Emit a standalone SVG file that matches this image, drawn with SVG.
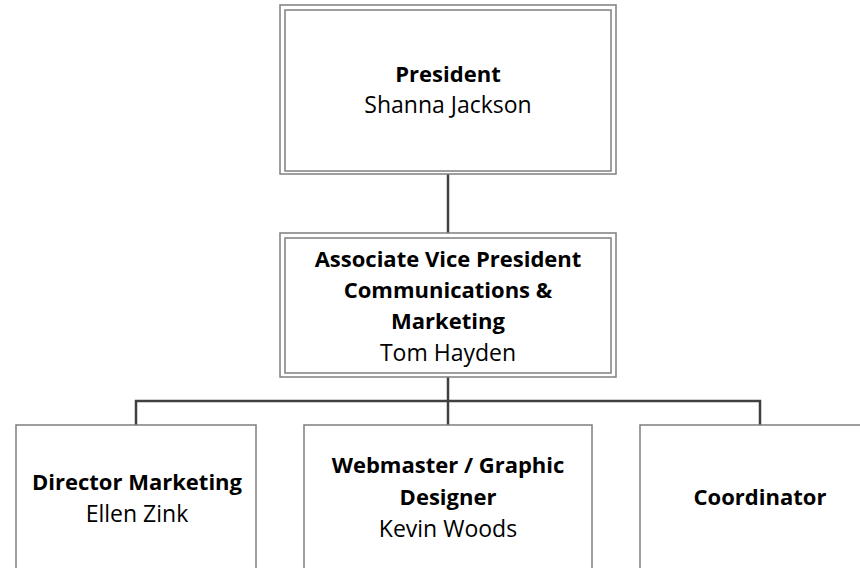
<svg xmlns="http://www.w3.org/2000/svg" width="860" height="568" viewBox="0 0 860 568">
<style>
.box{fill:#ffffff;stroke:#7f7f7f;stroke-width:1.5}
.inner{fill:none;stroke:#7f7f7f;stroke-width:1.5}
.conn{fill:none;stroke:#404040;stroke-width:2.5}
text{font-family:"Open Sans","Noto Sans",sans-serif;font-size:23px;fill:#000;text-anchor:middle}
.b{font-weight:bold;font-size:22px}
</style>
<rect width="860" height="568" fill="#ffffff"/>
<g id="connectors">
<line class="conn" x1="448" y1="174" x2="448" y2="233"/>
<line class="conn" x1="448" y1="377" x2="448" y2="425"/>
<polyline class="conn" points="136,425 136,401 760,401 760,425"/>
</g>
<g id="president">
<rect class="box" x="280" y="5" width="336" height="169"/>
<rect class="inner" x="285" y="10" width="326" height="161"/>
<text class="b" x="448" y="82">President</text>
<text x="448" y="113">Shanna Jackson</text>
</g>
<g id="avp">
<rect class="box" x="280" y="233" width="336" height="144"/>
<rect class="inner" x="285" y="238" width="326" height="135"/>
<text class="b" x="448" y="267">Associate Vice President</text>
<text class="b" x="448" y="298">Communications &amp;</text>
<text class="b" x="448" y="329">Marketing</text>
<text x="448" y="361">Tom Hayden</text>
</g>
<g id="director">
<rect class="box" x="16" y="425" width="240" height="160"/>
<text class="b" x="137" y="490">Director Marketing</text>
<text x="137" y="522">Ellen Zink</text>
</g>
<g id="webmaster">
<rect class="box" x="304" y="425" width="288" height="160"/>
<text class="b" x="448" y="473">Webmaster / Graphic</text>
<text class="b" x="448" y="505">Designer</text>
<text x="448" y="537">Kevin Woods</text>
</g>
<g id="coordinator">
<rect class="box" x="640" y="425" width="240" height="160"/>
<text class="b" x="760" y="505">Coordinator</text>
</g>
</svg>
